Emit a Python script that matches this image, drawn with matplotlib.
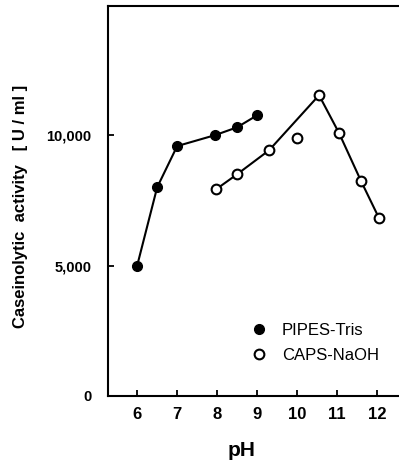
import matplotlib
matplotlib.use("Agg")
import matplotlib.pyplot as plt

plt.rcParams['font.family'] = ['Liberation Sans', 'DejaVu Sans']

# PIPES-Tris buffer (filled circles)
pipes_ph = [6.0, 6.5, 7.0, 7.95, 8.5, 9.0]
pipes_act = [5000, 8000, 9580, 10000, 10300, 10760]

# CAPS-NaOH buffer (open circles); the pH 10 point is not on the line
caps_ph = [7.98, 8.5, 9.3, 10.0, 10.55, 11.05, 11.6, 12.05]
caps_act = [7930, 8500, 9420, 9880, 11530, 10080, 8240, 6820]
caps_on_line = [True, True, True, False, True, True, True, True]

xticks = [6, 7, 8, 9, 10, 11, 12]
yticks = [0, 5000, 10000]
ytick_labels = ['0', '5,000', '10,000']

fig = plt.figure(figsize=(3.99, 4.61), dpi=100)
ax = fig.add_axes([0.2707, 0.141, 0.7293, 0.846])

# connecting lines
ax.plot(pipes_ph, pipes_act, color='black', lw=1.5, zorder=2)
line_x = [p for p, k in zip(caps_ph, caps_on_line) if k]
line_y = [a for a, k in zip(caps_act, caps_on_line) if k]
ax.plot(line_x, line_y, color='black', lw=1.5, zorder=2)

# markers
ax.plot(pipes_ph, pipes_act, ls='none', marker='o', ms=7,
        mfc='black', mec='black', label='PIPES-Tris', zorder=3)
ax.plot(caps_ph, caps_act, ls='none', marker='o', ms=7, mfc='white',
        mec='black', mew=1.5, label='CAPS-NaOH', zorder=3)

ax.set_xlim(5.27, 12.55)
ax.set_ylim(0, 14950)
ax.set_xticks(xticks)
ax.set_yticks(yticks)
ax.set_yticklabels(ytick_labels)
for lab in ax.get_xticklabels():
    lab.set_fontweight('bold')
    lab.set_fontsize(12)
for lab in ax.get_yticklabels():
    lab.set_fontweight('bold')
    lab.set_fontsize(10.5)

ax.tick_params(direction='in', length=4, width=1.3, pad=8)
ax.tick_params(axis='y', pad=12)

for s in ['left', 'bottom', 'top']:
    ax.spines[s].set_linewidth(1.5)
ax.spines['right'].set_visible(False)

ax.set_ylabel('Caseinolytic  activity   [ U / ml ]', fontsize=12,
              fontweight='bold')
ax.yaxis.set_label_coords(-0.275, 0.487)
ax.set_xlabel('pH', fontsize=15, fontweight='bold')
ax.xaxis.set_label_coords(0.46, -0.115)

leg = ax.legend(loc='center left', bbox_to_anchor=(0.495, 0.137),
                frameon=False, fontsize=12, handlelength=0.8,
                handletextpad=1.0, labelspacing=0.6, borderpad=0,
                borderaxespad=0)

fig.savefig('out.png', dpi=100)
